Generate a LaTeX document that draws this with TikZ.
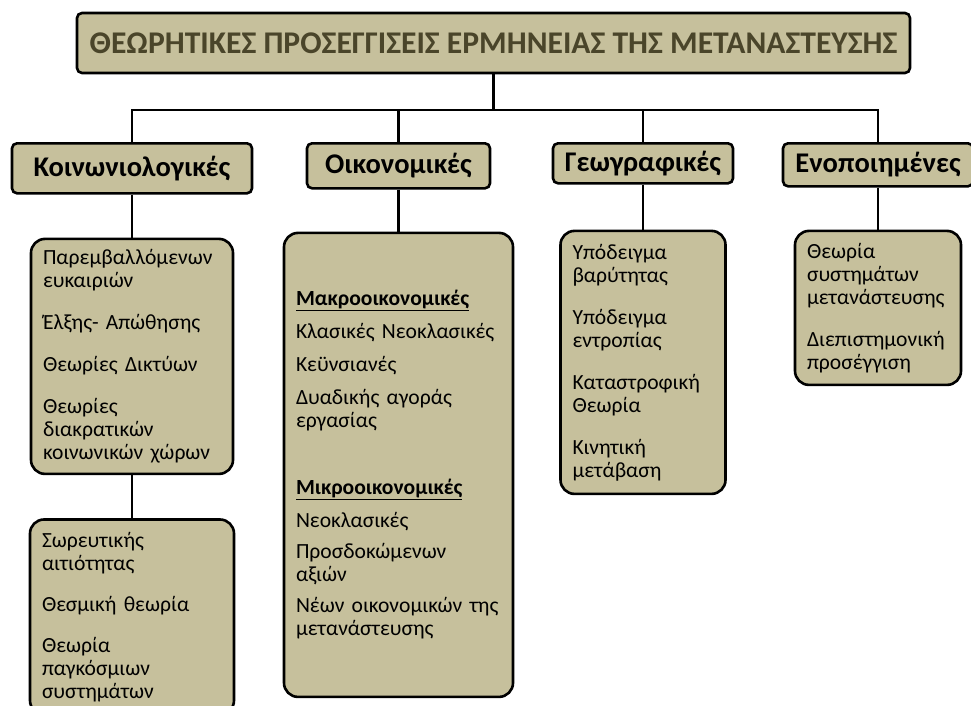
\documentclass[tikz,border=0pt]{standalone}
\usepackage{fontspec}
\setmainfont{Carlito}
\usepackage{tikz}
\usetikzlibrary{positioning}

\definecolor{tanfill}{RGB}{198,192,156}
\definecolor{titletxt}{RGB}{74,69,42}

\tikzset{
  box/.style={draw, line width=2.6pt, fill=tanfill, rounded corners=5pt},
  maintitle/.style={box, text=titletxt, minimum width=833pt, minimum height=60pt,
    inner sep=0pt, font=\bfseries\fontsize{31.6}{36}\selectfont},
  approach/.style={box, anchor=north, inner sep=0pt,
    font=\bfseries\fontsize{28.5}{32}\selectfont},
  theories/.style={box, rounded corners=14pt, anchor=north, align=left,
    inner xsep=12pt, inner ysep=0pt, font=\fontsize{21.6}{23}\selectfont},
  link/.style={line width=2.6pt}
}

\begin{document}
\begin{tikzpicture}[x=1pt, y=-1pt, node distance=43pt]
\useasboundingbox (0,0) rectangle (971,706);

\node[maintitle] (title) at (493.5,43) {ΘΕΩΡΗΤΙΚΕΣ ΠΡΟΣΕΓΓΙΣΕΙΣ ΕΡΜΗΝΕΙΑΣ ΤΗΣ ΜΕΤΑΝΑΣΤΕΥΣΗΣ};
\coordinate (bus) at (493.5,110);

\node[approach, minimum width=240pt, minimum height=50pt] (soc) at (132,142) {Κοινωνιολογικές};
\node[approach, minimum width=183pt, minimum height=45pt] (eco) at (398.5,142) {Οικονομικές};
\node[approach, minimum width=180pt, minimum height=40pt] (geo) at (643,142) {Γεωγραφικές};
\node[approach, minimum width=190pt, minimum height=43pt] (uni) at (878,142) {Ενοποιημένες};

\node[theories, text width=178pt, minimum height=235pt, below=of soc] (soc1)
  {Παρεμβαλλόμενων\\ευκαιριών\\[19pt]
   Έλξης- Απώθησης\\[19pt]
   Θεωρίες Δικτύων\\[19pt]
   Θεωρίες\\διακρατικών\\κοινωνικών χώρων};
\node[theories, text width=180pt, minimum height=195pt, below=of soc1] (soc2)
  {Σωρευτικής\\αιτιότητας\\[18pt]
   Θεσμική θεωρία\\[18pt]
   Θεωρία\\παγκόσμιων\\συστημάτων};
\node[theories, text width=205pt, minimum height=464pt, below=42pt of eco] (eco1)
  {\underline{\textbf{Μακροοικονομικές}}\\[10pt]
   Κλασικές Νεοκλασικές\\[10pt]
   Κεϋνσιανές\\[10pt]
   Δυαδικής αγοράς\\εργασίας\\[44pt]
   \underline{\textbf{Μικροοικονομικές}}\\[10pt]
   Νεοκλασικές\\[8pt]
   Προσδοκώμενων\\αξιών\\[8pt]
   Νέων οικονομικών της\\μετανάστευσης};
\node[theories, text width=141pt, minimum height=263pt, below=45pt of geo] (geo1)
  {Υπόδειγμα\\βαρύτητας\\[19pt]
   Υπόδειγμα\\εντροπίας\\[19pt]
   Καταστροφική\\Θεωρία\\[19pt]
   Κινητική\\μετάβαση};
\node[theories, text width=142pt, minimum height=154pt, below=42pt of uni] (uni1)
  {Θεωρία\\συστημάτων\\μετανάστευσης\\[19pt]
   Διεπιστημονική\\προσέγγιση};

\draw[link] (title.south) -- (bus);
\draw[link] (soc.north) |- (bus) -| (uni.north);
\draw[link] (eco.north) |- (bus);
\draw[link] (geo.north) |- (bus);
\draw[link] (soc) -- (soc1);
\draw[link] (soc1) -- (soc2);
\draw[link] (eco) -- (eco1);
\draw[link] (geo) -- (geo1);
\draw[link] (uni) -- (uni1);

\end{tikzpicture}
\end{document}
